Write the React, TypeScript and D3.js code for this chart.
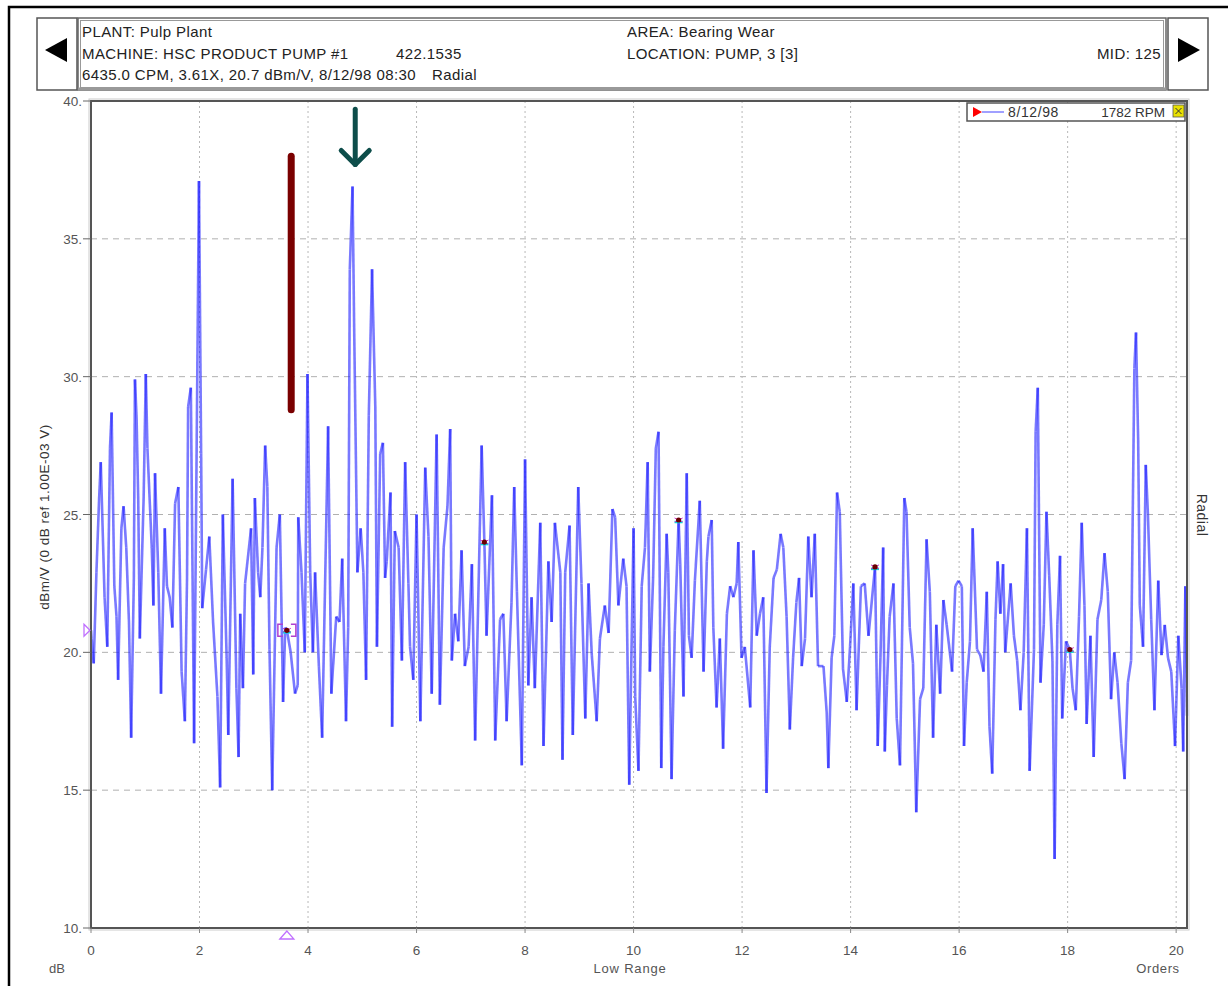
import { useMemo } from "react";
import * as d3 from "d3";

// --- spectrum: [order, dBm/V] ---
const spectrum: [number, number][] = [
  [0.0, 20.8], [0.01, 20.5], [0.05, 19.6], [0.1, 22.9], [0.15, 25.6], [0.18, 26.9], [0.25, 22.0], [0.3, 20.2],
  [0.35, 27.4], [0.38, 28.7], [0.43, 22.4], [0.47, 21.3], [0.5, 19.0], [0.56, 24.5], [0.6, 25.3], [0.65, 23.8],
  [0.7, 21.1], [0.74, 16.9], [0.79, 22.7], [0.81, 29.9], [0.84, 28.5], [0.87, 25.6], [0.9, 20.5], [0.97, 25.6],
  [1.01, 30.1], [1.04, 27.4], [1.12, 23.8], [1.15, 21.7], [1.18, 26.5], [1.24, 22.9], [1.29, 18.5], [1.36, 24.5],
  [1.4, 22.4], [1.45, 22.0], [1.5, 20.9], [1.55, 25.4], [1.61, 26.0], [1.67, 19.3], [1.73, 17.5], [1.77, 22.7],
  [1.79, 28.9], [1.84, 29.6], [1.9, 16.7], [1.99, 37.1], [2.03, 27.2], [2.05, 21.6], [2.12, 23.0], [2.18, 24.2],
  [2.25, 21.1], [2.33, 18.4], [2.38, 15.1], [2.43, 25.0], [2.5, 19.8], [2.53, 17.0], [2.61, 26.3], [2.68, 18.7],
  [2.72, 16.2], [2.75, 21.4], [2.8, 18.7], [2.84, 22.5], [2.95, 24.5], [2.99, 19.2], [3.02, 25.6], [3.08, 22.9],
  [3.12, 22.0], [3.16, 23.8], [3.21, 27.5], [3.25, 26.0], [3.29, 20.1], [3.34, 15.0], [3.42, 23.8], [3.48, 25.0],
  [3.54, 18.2], [3.58, 20.9], [3.61, 20.8], [3.68, 20.0], [3.76, 18.5], [3.81, 18.8], [3.82, 24.9], [3.88, 22.9],
  [3.94, 20.0], [3.99, 30.1], [4.04, 22.9], [4.09, 20.0], [4.13, 22.9], [4.2, 19.5], [4.26, 16.9], [4.37, 28.2],
  [4.43, 18.5], [4.52, 21.3], [4.58, 21.1], [4.63, 23.4], [4.7, 17.5], [4.74, 20.9], [4.77, 33.9], [4.82, 36.9],
  [4.85, 31.8], [4.91, 22.9], [4.97, 24.5], [5.02, 22.9], [5.07, 19.0], [5.12, 28.6], [5.18, 33.9], [5.24, 28.9],
  [5.27, 20.2], [5.33, 27.2], [5.38, 27.6], [5.42, 22.7], [5.45, 23.3], [5.52, 25.8], [5.55, 17.3], [5.6, 24.4],
  [5.67, 23.8], [5.73, 19.7], [5.79, 26.9], [5.85, 22.5], [5.88, 20.2], [5.94, 19.0], [6.0, 25.0], [6.07, 17.5],
  [6.16, 26.7], [6.22, 24.2], [6.28, 18.5], [6.37, 27.9], [6.43, 18.1], [6.5, 23.8], [6.57, 25.3], [6.62, 28.1],
  [6.65, 19.7], [6.71, 21.4], [6.77, 20.4], [6.83, 23.7], [6.89, 19.5], [6.96, 20.2], [7.02, 23.2], [7.08, 16.8],
  [7.2, 27.5], [7.25, 24.0], [7.29, 20.6], [7.39, 25.7], [7.45, 16.8], [7.54, 21.2], [7.6, 21.4], [7.66, 17.5],
  [7.75, 21.8], [7.8, 26.0], [7.85, 22.2], [7.94, 15.9], [8.0, 27.0], [8.06, 18.8], [8.12, 22.0], [8.18, 18.7],
  [8.28, 24.7], [8.34, 16.6], [8.43, 23.3], [8.49, 21.1], [8.55, 24.7], [8.65, 22.9], [8.69, 16.1], [8.74, 22.9],
  [8.82, 24.6], [8.88, 17.0], [8.98, 26.0], [9.04, 22.5], [9.11, 17.6], [9.17, 22.5], [9.23, 19.9], [9.32, 17.5],
  [9.38, 20.5], [9.47, 21.7], [9.54, 20.7], [9.61, 25.2], [9.66, 24.9], [9.72, 21.7], [9.81, 23.4], [9.87, 22.4],
  [9.92, 15.2], [10.0, 24.5], [10.03, 18.4], [10.09, 15.7], [10.15, 22.4], [10.21, 23.8], [10.26, 26.9], [10.3, 19.3],
  [10.36, 22.7], [10.41, 27.4], [10.46, 28.0], [10.51, 15.8], [10.55, 20.2], [10.61, 24.3], [10.64, 22.9], [10.7, 15.4],
  [10.76, 20.8], [10.83, 24.8], [10.86, 23.2], [10.92, 18.4], [10.98, 26.5], [11.02, 20.6], [11.07, 19.8], [11.13, 22.6],
  [11.22, 25.5], [11.29, 19.3], [11.35, 23.3], [11.38, 24.2], [11.44, 24.8], [11.47, 20.9], [11.53, 18.0], [11.59, 20.5],
  [11.65, 16.5], [11.72, 21.4], [11.78, 22.4], [11.84, 22.0], [11.9, 22.5], [11.93, 24.0], [11.99, 19.8], [12.05, 20.2],
  [12.15, 18.0], [12.21, 23.7], [12.27, 20.6], [12.33, 21.4], [12.39, 22.0], [12.45, 14.9], [12.51, 20.2], [12.58, 22.7],
  [12.64, 23.0], [12.71, 24.3], [12.76, 23.8], [12.82, 21.3], [12.88, 17.2], [12.94, 19.8], [13.0, 21.8], [13.05, 22.7],
  [13.1, 19.5], [13.16, 20.5], [13.22, 24.2], [13.28, 22.0], [13.34, 24.3], [13.4, 19.5], [13.5, 19.5], [13.56, 17.8],
  [13.59, 15.8], [13.65, 19.8], [13.7, 20.6], [13.75, 25.8], [13.8, 25.1], [13.86, 19.4], [13.93, 18.2], [13.99, 20.2],
  [14.05, 22.5], [14.11, 17.9], [14.19, 22.4], [14.26, 22.5], [14.33, 20.6], [14.45, 23.1], [14.5, 16.6], [14.55, 19.8],
  [14.6, 23.8], [14.63, 16.4], [14.67, 18.8], [14.72, 21.3], [14.79, 22.5], [14.85, 17.6], [14.91, 15.9], [14.99, 25.6],
  [15.03, 25.1], [15.09, 20.9], [15.15, 19.6], [15.21, 14.2], [15.28, 18.3], [15.34, 18.7], [15.4, 24.1], [15.46, 22.2],
  [15.52, 16.9], [15.58, 21.0], [15.65, 18.5], [15.71, 21.9], [15.77, 21.0], [15.87, 19.3], [15.93, 22.4], [15.99, 22.6],
  [16.05, 22.4], [16.09, 16.6], [16.14, 18.9], [16.2, 20.4], [16.25, 24.5], [16.33, 20.1], [16.39, 19.9], [16.45, 19.3],
  [16.51, 22.2], [16.56, 17.3], [16.61, 15.6], [16.67, 21.2], [16.71, 23.3], [16.76, 21.4], [16.81, 23.2], [16.85, 20.0],
  [16.95, 22.5], [17.01, 20.6], [17.07, 19.7], [17.13, 17.9], [17.19, 20.0], [17.25, 24.5], [17.3, 15.7], [17.38, 20.1],
  [17.41, 28.0], [17.45, 29.6], [17.5, 18.9], [17.56, 21.0], [17.61, 25.1], [17.66, 22.8], [17.72, 19.7], [17.76, 12.5],
  [17.81, 21.0], [17.86, 23.5], [17.9, 17.6], [17.97, 20.4], [18.04, 20.1], [18.09, 18.7], [18.15, 17.9], [18.21, 21.3],
  [18.26, 24.7], [18.31, 21.7], [18.35, 17.4], [18.42, 20.6], [18.48, 16.2], [18.55, 21.2], [18.62, 21.9], [18.68, 23.6],
  [18.74, 22.2], [18.8, 18.3], [18.86, 20.0], [18.92, 18.9], [18.99, 16.7], [19.05, 15.4], [19.11, 18.9], [19.17, 19.7],
  [19.23, 30.3], [19.26, 31.6], [19.3, 27.7], [19.33, 21.7], [19.39, 20.2], [19.44, 26.8], [19.48, 25.0], [19.54, 21.2],
  [19.6, 17.9], [19.67, 22.6], [19.73, 19.9], [19.79, 21.0], [19.85, 19.8], [19.91, 19.3], [19.98, 16.6], [20.04, 20.6],
  [20.1, 18.7], [20.13, 16.4], [20.17, 22.4], [20.2, 17.7],
];

// fault frequency markers (3.61X harmonics)
const markerOrders = [3.61, 7.25, 10.83, 14.45, 18.04];
const markerValues = [20.8, 24.0, 24.8, 23.1, 20.1];

const yTicks = [10, 15, 20, 25, 30, 35, 40];
const xTicks = [0, 2, 4, 6, 8, 10, 12, 14, 16, 18, 20];

const headerLeft = ["PLANT: Pulp Plant", "MACHINE: HSC PRODUCT PUMP #1", "6435.0 CPM, 3.61X, 20.7 dBm/V, 8/12/98 08:30"];
const headerMid = ["AREA: Bearing Wear", "LOCATION: PUMP, 3 [3]"];
const machineId = "422.1535";
const direction = "Radial";
const midLabel = "MID: 125";
const legendDate = "8/12/98";
const legendRpm = "1782 RPM";

// hand-drawn annotations (order / dB)
const redBar = { order: 3.69, from: 28.8, to: 38.0 };
const arrowMark = { order: 4.87, from: 39.7, to: 37.7 };

const W = 1228;
const H = 986;
const FONT = "'Liberation Sans', Arial, sans-serif";

export default function App() {
  const x = useMemo(() => d3.scaleLinear().domain([0, 20.2]).range([91, 1187]), []);
  const y = useMemo(() => d3.scaleLinear().domain([10, 40]).range([928, 101]), []);
  const line = d3.line<[number, number]>().x((d) => x(d[0])).y((d) => y(d[1]));

  // draw each segment separately so overlaps darken like the original
  const segments = spectrum.slice(1).map((d, i) => line([spectrum[i], d]) as string);

  const [x0, x1] = x.range();
  const [y0, y1] = y.range();

  return (
    <svg width={W} height={H} style={{ position: "absolute", left: 0, top: 0, background: "#fff" }} fontFamily={FONT}>
      {/* outer frame */}
      <rect x={9} y={7} width={W + 10} height={H + 10} fill="none" stroke="#000" strokeWidth={2.5} />

      {/* header */}
      <rect x={37} y={18} width={40} height={72} fill="#fff" stroke="#555" strokeWidth={1.5} />
      <path d="M45,50 L67,38 L67,62 Z" fill="#000" />
      <rect x={1168} y={18} width={40} height={72} fill="#fff" stroke="#555" strokeWidth={1.5} />
      <path d="M1200,50 L1178,38 L1178,62 Z" fill="#000" />
      <rect x={78} y={18} width={1088} height={72} fill="#fff" stroke="#666" strokeWidth={1.5} />
      <rect x={80.5} y={20.5} width={1083} height={67} fill="none" stroke="#999" strokeWidth={1} />
      <line x1={78} x2={1166} y1={89} y2={89} stroke="#999" strokeWidth={3} />
      <g fontSize={15} fill="#222" letterSpacing={0.4}>
        {headerLeft.map((t, i) => (
          <text key={t} x={82} y={37 + i * 21.5}>{t}</text>
        ))}
        <text x={396} y={58.5}>{machineId}</text>
        <text x={432} y={80}>{direction}</text>
        {headerMid.map((t, i) => (
          <text key={t} x={627} y={37 + i * 21.5}>{t}</text>
        ))}
        <text x={1161} y={58.5} textAnchor="end">{midLabel}</text>
      </g>

      {/* grid */}
      {yTicks.filter((t) => t > 10 && t < 40).map((t) => (
        <line key={"gy" + t} x1={x0} x2={x1} y1={y(t)} y2={y(t)} stroke="#b0b0b0" strokeDasharray="6,5" />
      ))}
      {xTicks.filter((t) => t > 0).map((t) => (
        <line key={"gx" + t} x1={x(t)} x2={x(t)} y1={y1} y2={y0} stroke="#b8b8b8" strokeDasharray="2,3" />
      ))}

      {/* spectrum */}
      <g fill="none" stroke="#2020ff" strokeOpacity={0.6} strokeWidth={2.6}>
        {segments.map((d, i) => (
          <path key={i} d={d} />
        ))}
      </g>

      {/* markers */}
      {markerOrders.map((o, i) => (
        <g key={"m" + i} transform={`translate(${x(o)},${y(markerValues[i])})`}>
          <line x1={-4} x2={4} y1={2} y2={2} stroke="#00e0e0" strokeWidth={2.5} />
          <line x1={-4} x2={4} y1={-2} y2={2} stroke="#cc33cc" strokeWidth={1} />
          <line x1={-4} x2={4} y1={2} y2={-2} stroke="#cc33cc" strokeWidth={1} />
          <circle r={2.6} fill="#6b0000" />
        </g>
      ))}
      {/* bracket around the active marker */}
      <path
        d={`M${x(markerOrders[0]) - 4},${y(markerValues[0]) - 6} h-5 v12 h5 M${x(markerOrders[0]) + 4},${y(markerValues[0]) - 6} h5 v12 h-5`}
        fill="none"
        stroke="#b040d0"
        strokeWidth={1.5}
      />

      {/* plot frame */}
      <rect x={x0} y={y1} width={x1 - x0} height={y0 - y1} fill="none" stroke="#555" strokeWidth={2} />
      <rect x={x0 - 2} y={y1 - 2} width={x1 - x0 + 4} height={y0 - y1 + 4} fill="none" stroke="#ccc" strokeWidth={1} />

      {/* cursor triangles */}
      <path d={`M${x0 - 7},${y(markerValues[0]) - 6} L${x0 - 1},${y(markerValues[0])} L${x0 - 7},${y(markerValues[0]) + 6} Z`} fill="none" stroke="#c070ff" strokeWidth={1.3} />
      <path d={`M${x(markerOrders[0]) - 7},${y0 + 11} L${x(markerOrders[0])},${y0 + 3} L${x(markerOrders[0]) + 7},${y0 + 11} Z`} fill="none" stroke="#c070ff" strokeWidth={1.3} />

      {/* y axis */}
      <g fontSize={13.5} fill="#555">
        {yTicks.map((t) => (
          <g key={"yt" + t}>
            <text x={82} y={y(t) + 5} textAnchor="end">{t + "."}</text>
            <line x1={83} x2={x0} y1={y(t)} y2={y(t)} stroke="#666" />
          </g>
        ))}
      </g>
      <text transform="translate(49,517) rotate(-90)" textAnchor="middle" fontSize={13.5} letterSpacing={0.5} fill="#333">
        dBm/V (0 dB ref 1.00E-03 V)
      </text>
      <text transform="translate(1197,515) rotate(90)" textAnchor="middle" fontSize={14} letterSpacing={0.5} fill="#333">
        Radial
      </text>

      {/* x axis */}
      <g fontSize={13.5} fill="#555">
        {xTicks.map((t) => (
          <g key={"xt" + t}>
            <line x1={x(t)} x2={x(t)} y1={y0} y2={y0 + 5} stroke="#888" />
            <text x={x(t)} y={955} textAnchor="middle">{t}</text>
          </g>
        ))}
        <text x={57} y={973} textAnchor="middle" fontSize={13}>dB</text>
        <text x={630} y={973} textAnchor="middle" fontSize={13} letterSpacing={0.8}>Low Range</text>
        <text x={1158} y={973} textAnchor="middle" fontSize={13} letterSpacing={0.6}>Orders</text>
      </g>

      {/* legend */}
      <rect x={967} y={103} width={218} height={18} fill="#fff" stroke="#555" strokeWidth={1.5} />
      <path d="M973,107 L982,112 L973,117 Z" fill="#ff0000" />
      <line x1={982} x2={1004} y1={112} y2={112} stroke="#8080ff" strokeWidth={1.5} />
      <text x={1008} y={117} fontSize={14} letterSpacing={0.6} fill="#333">{legendDate}</text>
      <text x={1165} y={117} fontSize={13.5} fill="#333" textAnchor="end">{legendRpm}</text>
      <rect x={1173} y={105} width={11} height={12} fill="#e8e000" stroke="#555" strokeWidth={0.8} />
      <path d="M1175.5,108 L1181.5,114 M1181.5,108 L1175.5,114" stroke="#333" strokeWidth={1} />

      {/* annotations */}
      <line x1={x(redBar.order)} x2={x(redBar.order)} y1={y(redBar.to)} y2={y(redBar.from)} stroke="#7a0000" strokeWidth={7} strokeLinecap="round" />
      <g stroke="#0d4d4a" strokeWidth={5} strokeLinecap="round" strokeLinejoin="round" fill="none">
        <line x1={x(arrowMark.order)} x2={x(arrowMark.order)} y1={y(arrowMark.from)} y2={y(arrowMark.to)} />
        <path d={`M${x(arrowMark.order) - 14},${y(arrowMark.to) - 14} L${x(arrowMark.order)},${y(arrowMark.to)} L${x(arrowMark.order) + 14},${y(arrowMark.to) - 14}`} />
      </g>
    </svg>
  );
}
